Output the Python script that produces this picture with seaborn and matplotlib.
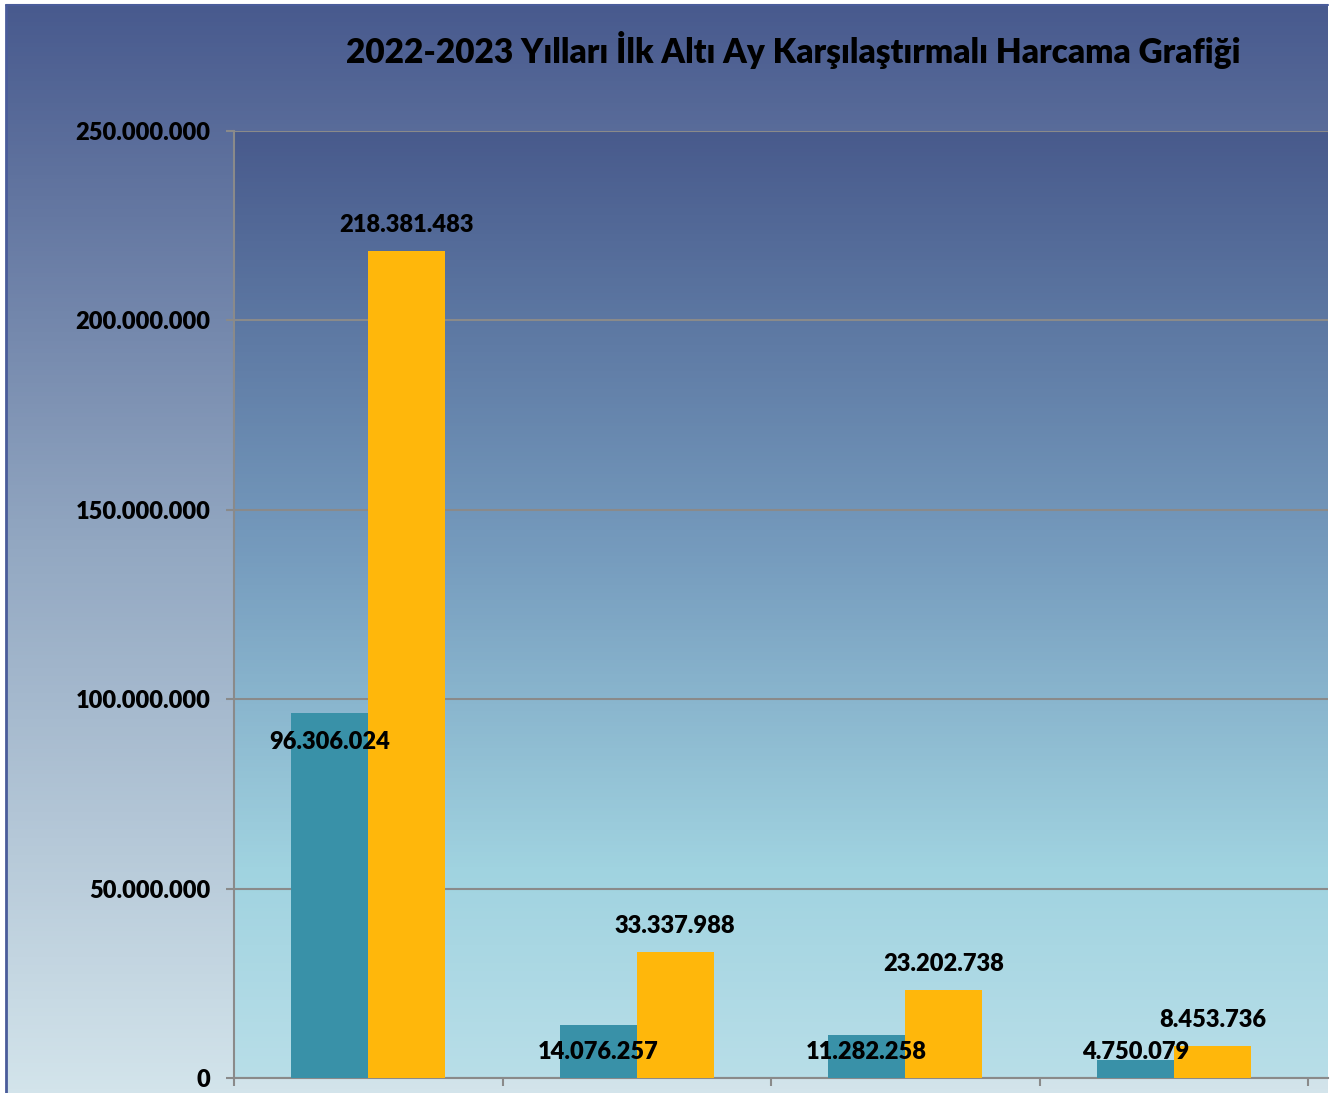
import numpy as np
import pandas as pd
import matplotlib.pyplot as plt
from matplotlib.colors import LinearSegmentedColormap
import seaborn as sns

# veriler
kategoriler = ["Kalem 1", "Kalem 2", "Kalem 3", "Kalem 4"]
yillar = ["2022", "2023"]
harcama_2022 = [96306024, 14076257, 11282258, 4750079]
harcama_2023 = [218381483, 33337988, 23202738, 8453736]
y_ticks = [0, 50000000, 100000000, 150000000, 200000000, 250000000]
baslik = "2022-2023 Yılları İlk Altı Ay Karşılaştırmalı Harcama Grafiği"

renkler = {"2022": "#3991A8", "2023": "#FFB70B"}


def fmt(v):
    return f"{v:,.0f}".replace(",", ".")


df = pd.DataFrame({
    "Kategori": kategoriler * 2,
    "Yil": ["2022"] * 4 + ["2023"] * 4,
    "Tutar": harcama_2022 + harcama_2023,
})

sns.set_theme(style="white")
plt.rcParams["font.family"] = ["Lato", "DejaVu Sans"]

W, H = 1343, 1093
fig = plt.figure(figsize=(W / 100, H / 100), dpi=100)
fig.patch.set_facecolor("white")

# dış arka plan gradyanı
bg = fig.add_axes([6 / W, 0, (1328 - 6) / W, (H - 5) / H])
bg_cmap = LinearSegmentedColormap.from_list(
    "bg", [(0, "#485A8E"), (0.5, "#93A8C2"), (1, "#D3E4EB")])
grad = np.linspace(0, 1, 256).reshape(-1, 1)
bg.imshow(grad, cmap=bg_cmap, aspect="auto", extent=[0, 1, 0, 1])
bg.set_xlim(0, 1)
bg.set_ylim(0, 1)
bg.axis("off")
fig.add_artist(plt.Line2D([6 / W, 6 / W], [0, (H - 5) / H], color="#4A5C9A", lw=2))
fig.add_artist(plt.Line2D([6 / W, 1328 / W], [(H - 5) / H, (H - 5) / H], color="#4A5C9A", lw=1.5))

ax = fig.add_axes([234 / W, 15 / H, (1328 - 234) / W, (1078 - 131) / H])
ax.set_facecolor("none")

plot_cmap = LinearSegmentedColormap.from_list(
    "plot", [(0, "#485A8C"), (0.45, "#769CBE"), (0.78, "#A0D3E0"), (1, "#B8DEE8")])
ax.imshow(grad, cmap=plot_cmap, aspect="auto", extent=[0, 1, 0, 1],
          transform=ax.transAxes, zorder=0)

sns.barplot(data=df, x="Kategori", y="Tutar", hue="Yil", hue_order=yillar,
            palette=renkler, width=0.574, gap=0, saturation=1, ax=ax,
            legend=False, zorder=3, linewidth=0, edgecolor="none")

ax.set_xlim(-0.5, 3.5 + 20 / 268.5)
ax.set_ylim(0, 250000000)
ax.set_yticks(y_ticks)
ax.set_yticklabels([fmt(t) for t in y_ticks], fontweight="heavy", fontsize=17, color="black")
ax.set_xticks([-0.5, 0.5, 1.5, 2.5, 3.5])
ax.set_xticklabels([])
ax.set_xlabel("")
ax.set_ylabel("")
ax.grid(axis="y", color="#8A8A8A", lw=1.5, zorder=1)
ax.set_axisbelow(True)
ax.tick_params(axis="y", length=6, width=1.5, color="#8A8A8A", pad=11, left=True)
ax.tick_params(axis="x", length=6, width=1.5, color="#8A8A8A", bottom=True)
for s in ["top", "right"]:
    ax.spines[s].set_visible(False)
for s in ["left", "bottom"]:
    ax.spines[s].set_color("#8A8A8A")
    ax.spines[s].set_linewidth(1.5)

# etiketler
bw = 0.287
for i, (a, b) in enumerate(zip(harcama_2022, harcama_2023)):
    ax.text(i - bw / 2, max(a - 7.6e6, 6.9e6), fmt(a), ha="center", va="center",
            fontweight="heavy", fontsize=17, color="black", zorder=5)
    ax.text(i + bw / 2, b + 6.9e6, fmt(b), ha="center", va="center",
            fontweight="heavy", fontsize=17, color="black", zorder=5)

fig.text(793 / W, 1 - 50 / H, baslik, ha="center", va="center",
         fontweight="heavy", fontsize=24, color="black")

fig.savefig("out.png", dpi=100)
